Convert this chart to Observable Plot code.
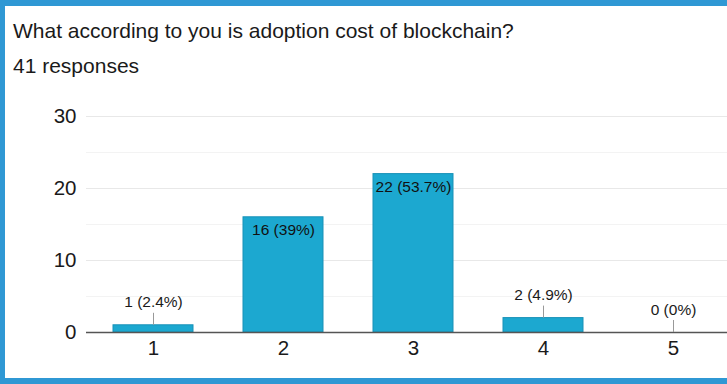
<!DOCTYPE html>
<html>
<head>
<meta charset="utf-8">
<script src="https://cdn.jsdelivr.net/npm/d3@7"></script>
<script src="https://cdn.jsdelivr.net/npm/@observablehq/plot@0.6"></script>
<style>
  html, body { margin: 0; padding: 0; background: #fff; overflow: hidden; width: 727px; height: 384px; }
  body { position: relative; font-family: "Liberation Sans", Arial, Helvetica, sans-serif; color: #1a1a1a; }
  #frame { position: absolute; left: 0; top: 0; width: 727px; height: 384px; box-sizing: border-box;
           border-left: 5px solid #2f98d4; border-top: 6px solid #2f98d4; border-bottom: 6px solid #2f98d4;
           pointer-events: none; z-index: 5; }
  #title { position: absolute; left: 13px; top: 19px; font-size: 21px; line-height: 24px; white-space: nowrap; }
  #subtitle { position: absolute; left: 13px; top: 54px; font-size: 21px; line-height: 24px; white-space: nowrap; }
  #chart { position: absolute; left: 0; top: 90px; }
</style>
</head>
<body>
<div id="title"></div>
<div id="subtitle"></div>
<div id="chart"></div>
<div id="frame"></div>
<script>
const titleText = "What according to you is adoption cost of blockchain?";
const subtitleText = "41 responses";
const categories = ["1", "2", "3", "4", "5"];
const counts = [1, 16, 22, 2, 0];
const percents = ["2.4%", "39%", "53.7%", "4.9%", "0%"];
const yTicks = [0, 10, 20, 30];
const minorTicks = [5, 15, 25];

document.getElementById("title").textContent = titleText;
document.getElementById("subtitle").textContent = subtitleText;

const data = categories.map((c, i) => ({cat: c, count: counts[i], label: `${counts[i]} (${percents[i]})`}));
const inside = data.filter(d => d.count >= 10);
const outside = data.filter(d => d.count < 10);

const chart = Plot.plot({
  width: 727,
  height: 288,
  marginTop: 26,
  marginBottom: 46,
  marginLeft: 86,
  marginRight: 0,
  x: {domain: categories, range: [87, 738], paddingInner: 0.386, paddingOuter: 0.193},
  y: {domain: [0, 30]},
  style: {fontFamily: "'Liberation Sans', Arial, Helvetica, sans-serif", color: "#1a1a1a", background: "transparent", overflow: "visible"},
  marks: [
    Plot.ruleY(minorTicks, {stroke: "#f3f3f3"}),
    Plot.ruleY(yTicks.filter(t => t > 0), {stroke: "#e8e8e8"}),
    Plot.barY(data, {x: "cat", y: "count", fill: "#1ca8d0", stroke: "#1891b7", strokeWidth: 1}),
    Plot.ruleY([0], {stroke: "#555", strokeWidth: 1.5}),
    Plot.ruleX(outside, {x: "cat", y1: "count", y2: "count", insetTop: -12, stroke: "#999", strokeWidth: 1}),
    Plot.text(outside, {x: "cat", y: "count", text: "label", dy: -18, lineAnchor: "bottom", fontSize: 15.5, fill: "#1a1a1a"}),
    Plot.text(inside, {x: "cat", y: "count", text: "label", dy: 18, lineAnchor: "bottom", fontSize: 15.5, fill: "#111"}),
    Plot.axisY(yTicks, {tickSize: 0, tickPadding: 10, fontSize: 20.5, label: null}),
    Plot.axisX(categories, {tickSize: 0, tickPadding: 8, fontSize: 20.5, label: null})
  ]
});
document.getElementById("chart").appendChild(chart);
</script>
</body>
</html>
